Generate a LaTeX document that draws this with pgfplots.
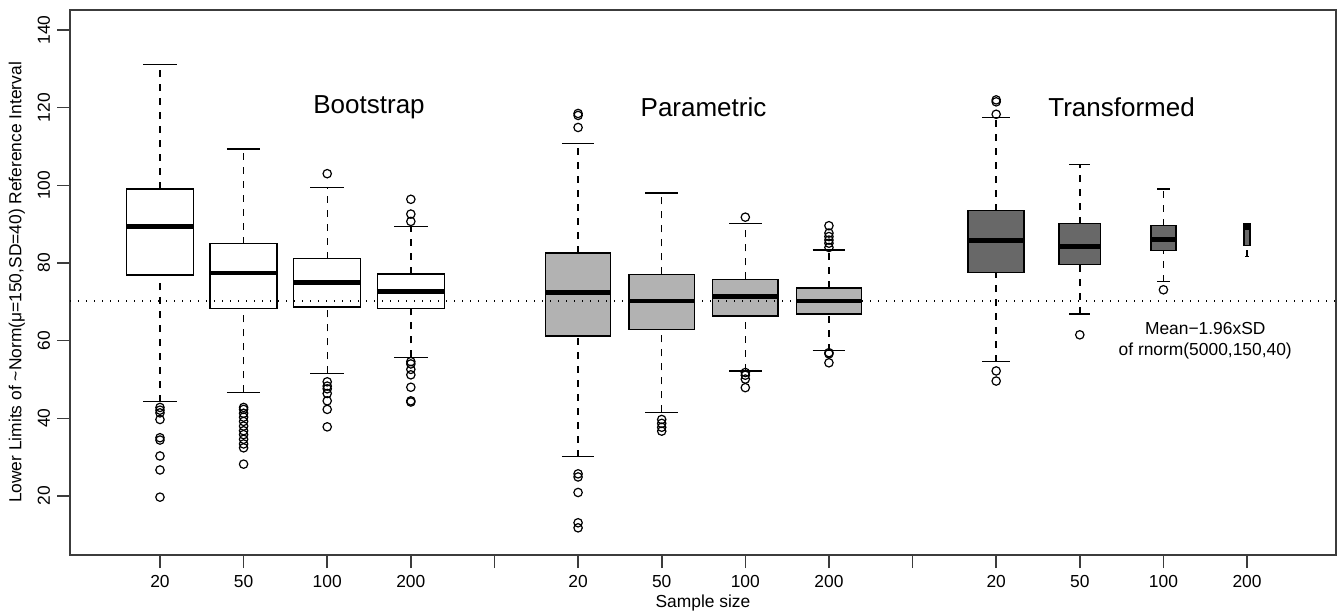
\documentclass[border=0pt]{standalone}
\usepackage{fontspec}
\setmainfont{Liberation Sans}
\usepackage{pgfplots}
\pgfplotsset{compat=1.18}
\usepgfplotslibrary{statistics}

\definecolor{midgray}{RGB}{178,178,178}
\definecolor{darkgray}{RGB}{104,104,104}
\definecolor{framegray}{RGB}{60,60,60}

% R-like boxplot: dashed whisker, solid cap half as wide as the box
\pgfplotsset{
  /pgfplots/boxplot/draw/lower whisker/.code={%
    \draw[dash pattern=on 3.5pt off 3.5pt]
      (boxplot cs:\pgfplotsboxplotvalue{lower whisker}) --
      (boxplot cs:\pgfplotsboxplotvalue{lower quartile});
    \draw[solid]
      (boxplot box cs:\pgfplotsboxplotvalue{lower whisker},0.25) --
      (boxplot box cs:\pgfplotsboxplotvalue{lower whisker},0.75);
  },
  /pgfplots/boxplot/draw/upper whisker/.code={%
    \draw[dash pattern=on 3.5pt off 3.5pt]
      (boxplot cs:\pgfplotsboxplotvalue{upper quartile}) --
      (boxplot cs:\pgfplotsboxplotvalue{upper whisker});
    \draw[solid]
      (boxplot box cs:\pgfplotsboxplotvalue{upper whisker},0.25) --
      (boxplot box cs:\pgfplotsboxplotvalue{upper whisker},0.75);
  },
  rbox/.style n args={2}{
    black, solid, line width=0.7pt,
    mark=o, mark size=2.1pt, mark options={solid, line width=0.6pt},
    boxplot/draw direction=y,
    boxplot/every box/.style={fill=#1},
    boxplot/every median/.style={line width=2.4pt},
    boxplot/box extend=#2,
  },
}

\begin{document}
\begin{tikzpicture}
\begin{axis}[
    scale only axis,
    width=633pt, height=272.5pt,
    xmin=-0.076, xmax=15.064,
    ymin=4.8, ymax=145.15,
    axis line style={line width=0.8pt, framegray},
    tick style={line width=0.8pt, framegray},
    tick align=outside, tick pos=left,
    major tick length=6.5pt,
    xtick={1,2,3,4,5,6,7,8,9,10,11,12,13,14},
    xticklabels={20,50,100,200,,20,50,100,200,,20,50,100,200},
    ytick={20,40,60,80,100,120,140},
    /pgf/number format/assume math mode=true,
    tick label style={font=\fontsize{8.7}{10}\selectfont},
    yticklabel style={rotate=90, anchor=south},
    xlabel={Sample size},
    ylabel={Lower Limits of \textasciitilde Norm(μ=150,SD=40) Reference Interval},
    label style={font=\fontsize{8.7}{10}\selectfont},
    xlabel style={at={(axis description cs:0.5,-0.0881)}, anchor=center},
    ylabel style={at={(axis description cs:-0.0419,0.5)}, anchor=center},
]

% Bootstrap
\addplot[rbox={white}{0.8}, boxplot prepared={draw position=1,
  lower whisker=44.3, lower quartile=76.9, median=89.3, upper quartile=99.1, upper whisker=131.1}]
  table[row sep=\\, y index=0] {data\\ 42.8\\ 42.1\\ 41.4\\ 39.7\\ 35.0\\ 34.4\\ 30.3\\ 26.7\\ 19.7\\};
\addplot[rbox={white}{0.8}, boxplot prepared={draw position=2,
  lower whisker=46.7, lower quartile=68.3, median=77.4, upper quartile=85.0, upper whisker=109.4}]
  table[row sep=\\, y index=0] {data\\ 42.8\\ 42.3\\ 41.3\\ 40.3\\ 39.2\\ 38.0\\ 36.8\\ 35.8\\ 34.6\\ 33.4\\ 32.4\\ 28.2\\};
\addplot[rbox={white}{0.8}, boxplot prepared={draw position=3,
  lower whisker=51.6, lower quartile=68.7, median=74.9, upper quartile=81.1, upper whisker=99.4}]
  table[row sep=\\, y index=0] {data\\ 103.0\\ 49.4\\ 48.3\\ 47.6\\ 46.4\\ 44.5\\ 42.3\\ 37.8\\};
\addplot[rbox={white}{0.8}, boxplot prepared={draw position=4,
  lower whisker=55.7, lower quartile=68.3, median=72.6, upper quartile=77.2, upper whisker=89.4}]
  table[row sep=\\, y index=0] {data\\ 96.4\\ 92.6\\ 90.7\\ 54.6\\ 54.0\\ 52.6\\ 51.2\\ 48.0\\ 44.5\\ 44.2\\};

% Parametric
\addplot[rbox={midgray}{0.78}, boxplot prepared={draw position=6,
  lower whisker=30.1, lower quartile=61.2, median=72.3, upper quartile=82.6, upper whisker=110.8}]
  table[row sep=\\, y index=0] {data\\ 118.5\\ 118.0\\ 114.9\\ 25.7\\ 24.9\\ 20.9\\ 13.1\\ 11.8\\};
\addplot[rbox={midgray}{0.78}, boxplot prepared={draw position=7,
  lower whisker=41.5, lower quartile=62.8, median=70.2, upper quartile=77.1, upper whisker=98.0}]
  table[row sep=\\, y index=0] {data\\ 39.7\\ 38.7\\ 37.7\\ 36.7\\};
\addplot[rbox={midgray}{0.78}, boxplot prepared={draw position=8,
  lower whisker=52.2, lower quartile=66.3, median=71.3, upper quartile=75.8, upper whisker=90.1}]
  table[row sep=\\, y index=0] {data\\ 91.8\\ 51.8\\ 51.1\\ 50.1\\ 47.9\\};
\addplot[rbox={midgray}{0.78}, boxplot prepared={draw position=9,
  lower whisker=57.4, lower quartile=66.9, median=70.2, upper quartile=73.6, upper whisker=83.3}]
  table[row sep=\\, y index=0] {data\\ 89.6\\ 87.7\\ 86.8\\ 85.9\\ 85.1\\ 84.0\\ 56.9\\ 56.6\\ 54.3\\};

% Transformed
\addplot[rbox={darkgray}{0.67}, boxplot prepared={draw position=11,
  lower whisker=54.6, lower quartile=77.5, median=85.8, upper quartile=93.5, upper whisker=117.4}]
  table[row sep=\\, y index=0] {data\\ 122.0\\ 121.5\\ 118.3\\ 52.2\\ 49.6\\};
\addplot[rbox={darkgray}{0.5}, boxplot prepared={draw position=12,
  lower whisker=66.9, lower quartile=79.6, median=84.2, upper quartile=90.1, upper whisker=105.4}]
  table[row sep=\\, y index=0] {data\\ 61.5\\};
\addplot[rbox={darkgray}{0.3}, boxplot prepared={draw position=13,
  lower whisker=75.2, lower quartile=83.2, median=86.1, upper quartile=89.6, upper whisker=99.1}]
  table[row sep=\\, y index=0] {data\\ 73.1\\};
\addplot[rbox={darkgray}{0.075}, boxplot prepared={draw position=14,
  lower whisker=81.6, lower quartile=84.5, median=89.1, upper quartile=90.0, upper whisker=90.0}]
  coordinates {};

% reference line
\addplot[black, line width=0.6pt, dash pattern=on 0.7pt off 3.3pt]
  coordinates {(-0.076,70.2) (15.064,70.2)};

\node[font=\fontsize{13}{15}\selectfont] at (axis cs:3.5,120.2) {Bootstrap};
\node[font=\fontsize{13}{15}\selectfont] at (axis cs:7.5,120.2) {Parametric};
\node[font=\fontsize{13}{15}\selectfont] at (axis cs:12.5,120.2) {Transformed};
\node[font=\fontsize{8.7}{10.5}\selectfont, align=center] at (axis cs:13.5,59.9)
  {Mean−1.96xSD\\of rnorm(5000,150,40)};
\end{axis}
\pgfresetboundingbox
\path ([xshift=-35pt,yshift=-28.5pt]current axis.south west)
  rectangle ([xshift=0.5pt,yshift=5pt]current axis.north east);
\end{tikzpicture}
\end{document}
